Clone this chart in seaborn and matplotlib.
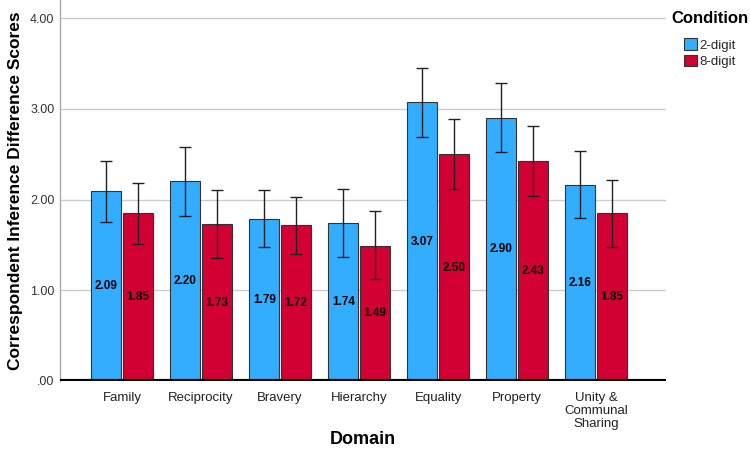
import numpy as np
import pandas as pd
import matplotlib
matplotlib.use("Agg")
import matplotlib.pyplot as plt
import seaborn as sns

domains = ["Family", "Reciprocity", "Bravery", "Hierarchy", "Equality",
           "Property", "Unity &\nCommunal\nSharing"]
conditions = ["2-digit", "8-digit"]

mean_2 = [2.09, 2.20, 1.79, 1.74, 3.07, 2.90, 2.16]
mean_8 = [1.85, 1.73, 1.72, 1.49, 2.50, 2.43, 1.85]
lo_2 = [1.75, 1.82, 1.48, 1.37, 2.69, 2.52, 1.80]
hi_2 = [2.43, 2.58, 2.11, 2.12, 3.45, 3.29, 2.53]
lo_8 = [1.51, 1.36, 1.40, 1.12, 2.12, 2.04, 1.48]
hi_8 = [2.18, 2.11, 2.03, 1.87, 2.89, 2.81, 2.22]

colors = ["#33adff", "#d30034"]

df = pd.DataFrame({
    "Domain": domains * 2,
    "Condition": [conditions[0]] * 7 + [conditions[1]] * 7,
    "Score": mean_2 + mean_8,
    "lo": lo_2 + lo_8,
    "hi": hi_2 + hi_8,
})

sns.set_style("white")
plt.rcParams["font.family"] = ["Liberation Sans", "DejaVu Sans"]
narrow = ["Liberation Sans Narrow", "DejaVu Sans Condensed", "Liberation Sans"]

fig = plt.figure(figsize=(7.5, 4.59), dpi=100)
ax = fig.add_axes([0.08, 0.17, 0.808, 0.83])

sns.barplot(data=df, x="Domain", y="Score", hue="Condition", palette=colors,
            saturation=1, errorbar=None, width=0.8, gap=0.06,
            edgecolor="#333333", linewidth=0.8, ax=ax, zorder=2)

# error bars and value labels, placed on the drawn bars
for cont, cond in zip(ax.containers, conditions):
    sub = df[df["Condition"] == cond]
    for bar, m, lo, hi in zip(cont.patches, sub["Score"], sub["lo"], sub["hi"]):
        cx = bar.get_x() + bar.get_width() / 2
        ax.errorbar(cx, m, yerr=[[m - lo], [hi - m]], fmt="none",
                    ecolor="#222222", elinewidth=1, capsize=4, capthick=1, zorder=3)
        ax.text(cx, m / 2, f"{m:.2f}", ha="center", va="center", fontsize=8.5,
                fontweight="bold", family=narrow, color="black", zorder=4)

ax.set_ylim(0, 4.2)
ax.set_xlim(-0.785, 6.886)
ax.set_yticks([0, 1, 2, 3, 4])
ax.set_yticklabels([".00", "1.00", "2.00", "3.00", "4.00"], fontsize=9, color="#333333")
ax.tick_params(axis="x", labelsize=9.5, length=0, pad=8)
ax.tick_params(axis="y", length=0, pad=4)
for lab in ax.get_xticklabels():
    lab.set_family(narrow)
    lab.set_color("#222222")
    lab.set_linespacing(1.1)
for lab in ax.get_yticklabels():
    lab.set_family(narrow)

ax.yaxis.grid(True, color="#cccccc", linewidth=1, zorder=0)
ax.set_axisbelow(True)
for s in ["top", "right", "bottom"]:
    ax.spines[s].set_visible(False)
ax.spines["left"].set_color("#aaaaaa")
ax.spines["left"].set_linewidth(1)
ax.axhline(0, color="black", linewidth=3, zorder=5)

ax.set_xlabel("Domain", fontsize=13, fontweight="bold", labelpad=1, color="black")
ax.set_ylabel("Correspondent Inference Difference Scores", fontsize=12.5,
              fontweight="bold", labelpad=5, color="black")

leg = ax.legend(title="Condition", loc="upper left", bbox_to_anchor=(1.0, 0.985),
                frameon=False, fontsize=9.5, handlelength=1.0, handleheight=1.0,
                handletextpad=0.2, labelspacing=0.2, borderaxespad=0.2,
                borderpad=0.2)
leg.get_title().set_fontweight("bold")
leg.get_title().set_fontsize(12)
leg.get_title().set_color("black")
leg._legend_box.sep = 9
for t in leg.get_texts():
    t.set_family(narrow)

fig.savefig("out.png", dpi=100)
